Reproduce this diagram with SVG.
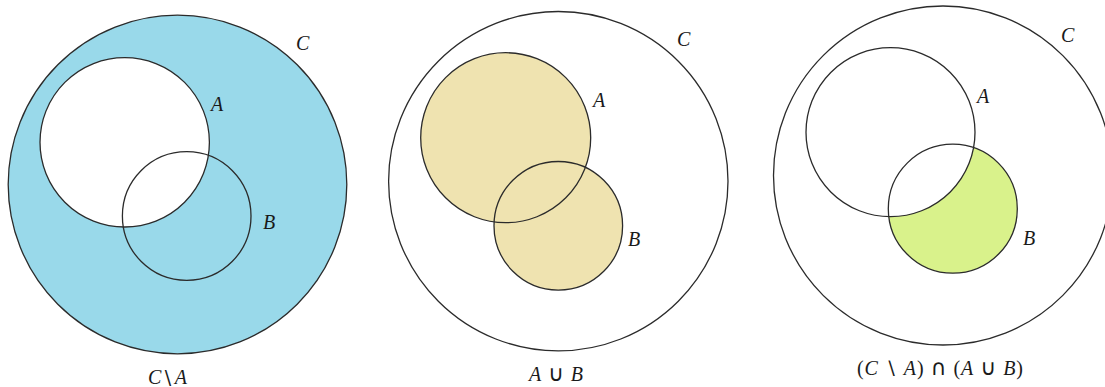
<svg xmlns="http://www.w3.org/2000/svg" width="1105" height="387" viewBox="0 0 1105 387">
<style>
.ol{fill:none;stroke:#2b2b2b;stroke-width:1.3}
.lb{font-family:"Liberation Serif","DejaVu Serif",serif;font-style:italic;font-size:20px;fill:#1a1a1a}
.cap{font-family:"Liberation Serif","DejaVu Serif",serif;font-size:20px;fill:#1a1a1a}
.it{font-style:italic}
.op{font-family:"DejaVu Sans",sans-serif;font-size:22px}
</style>
<rect width="1105" height="387" fill="#ffffff"/>
<g id="panel1">
  <g id="p1-C"><circle cx="177.5" cy="184.5" r="169.3" fill="#99d9ea"/><circle cx="177.5" cy="184.5" r="169.3" class="ol"/><text x="296" y="50" class="lb">C</text></g>
  <g id="p1-A"><circle cx="124.7" cy="142.3" r="84.7" fill="#ffffff"/><circle cx="124.7" cy="142.3" r="84.7" class="ol"/><text x="211" y="111" class="lb">A</text></g>
  <g id="p1-B"><circle cx="186.7" cy="216" r="64.3" class="ol"/><text x="263" y="229" class="lb">B</text></g>
  <text x="148" y="384" class="cap" textLength="39" lengthAdjust="spacing"><tspan class="it">C</tspan><tspan class="op" style="font-size:19px">\</tspan><tspan class="it">A</tspan></text>
</g>
<g id="panel2">
  <g id="p2-C"><circle cx="558.3" cy="181.2" r="169.7" class="ol"/><text x="677" y="45.5" class="lb">C</text></g>
  <g id="p2-fill"><circle cx="505.7" cy="137.7" r="85" fill="#efe3b0"/><circle cx="558.3" cy="225.8" r="64.3" fill="#efe3b0"/></g>
  <g id="p2-A"><circle cx="505.7" cy="137.7" r="85" class="ol"/><text x="593" y="107" class="lb">A</text></g>
  <g id="p2-B"><circle cx="558.3" cy="225.8" r="64.3" class="ol"/><text x="628" y="246" class="lb">B</text></g>
  <text x="529" y="381" class="cap" textLength="54" lengthAdjust="spacing"><tspan class="it">A</tspan> <tspan class="op">∪</tspan> <tspan class="it">B</tspan></text>
</g>
<g id="panel3">
  <g id="p3-C"><circle cx="943" cy="175.5" r="169.5" class="ol"/><text x="1061" y="41.5" class="lb">C</text></g>
  <g id="p3-fill"><circle cx="952.8" cy="208.7" r="64.5" fill="#d9f28b"/><circle cx="890.5" cy="132.2" r="84.5" fill="#ffffff"/></g>
  <g id="p3-A"><circle cx="890.5" cy="132.2" r="84.5" class="ol"/><text x="977" y="103" class="lb">A</text></g>
  <g id="p3-B"><circle cx="952.8" cy="208.7" r="64.5" class="ol"/><text x="1023" y="245" class="lb">B</text></g>
  <text x="857" y="375" class="cap" textLength="166" lengthAdjust="spacing">(<tspan class="it">C</tspan> <tspan class="op" style="font-size:19px">∖</tspan> <tspan class="it">A</tspan>) <tspan class="op">∩</tspan> (<tspan class="it">A</tspan> <tspan class="op">∪</tspan> <tspan class="it">B</tspan>)</text>
</g>
</svg>
